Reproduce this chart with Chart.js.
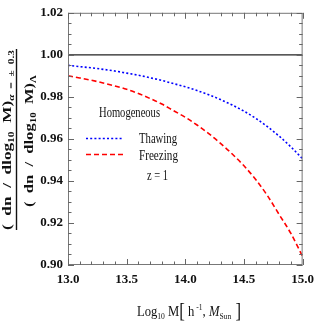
<!DOCTYPE html>
<html><head><meta charset="utf-8">
<script src="https://cdn.jsdelivr.net/npm/chart.js@4/dist/chart.umd.min.js"></script>
<style>html,body{margin:0;padding:0;background:#fff}canvas{display:block}</style>
</head><body>
<canvas id="c" width="321" height="332"></canvas>
<script>
// ---- data ----
const massValues = [13.0,13.1,13.2,13.3,13.4,13.5,13.6,13.7,13.8,13.9,14.0,14.1,14.2,14.3,14.4,14.5,14.6,14.7,14.8,14.9,15.0];
const thawing  = [0.9950,0.9944,0.9938,0.9931,0.9923,0.9913,0.9903,0.9891,0.9878,0.9863,0.9848,0.9830,0.9810,0.9787,0.9761,0.9732,0.9698,0.9658,0.9613,0.9562,0.9505];
const freezing = [0.9900,0.9890,0.9879,0.9866,0.9852,0.9836,0.9816,0.9792,0.9766,0.9734,0.9703,0.9666,0.9625,0.9579,0.9528,0.9472,0.9407,0.9330,0.9240,0.9150,0.9040];
const referenceMass = [13.0,15.0];
const referenceRatio = [1.0,1.0];
const yTickValues = [0.90,0.92,0.94,0.96,0.98,1.00,1.02];
const xTickValues = [13.0,13.5,14.0,14.5,15.0];
const seriesNames = ['Thawing','Freezing'];
const legendTitle = 'Homogeneous';
const legendNote = 'z = 1';

const SERIF = '"Liberation Serif","Times New Roman",serif';

function rich(ctx, parts, x, y, targetW, align){
  let W = 0;
  parts.forEach(p=>{ctx.font=p.font; p.w=ctx.measureText(p.t).width; W+=p.w;});
  const s = targetW ? targetW/W : 1;
  const x0 = align==='center' ? x - W*s/2 : x;
  ctx.save();
  ctx.translate(x0,y);
  ctx.scale(s,1);
  let cx = 0;
  parts.forEach(p=>{
    ctx.font=p.font; ctx.fillStyle='#111'; ctx.textBaseline='alphabetic'; ctx.textAlign='left';
    ctx.fillText(p.t, cx, p.dy||0);
    cx += p.w;
  });
  ctx.restore();
}

const decor = {
  id:'decor',
  afterDraw(chart){
    const {ctx, chartArea:a, scales:{x, y}} = chart;
    ctx.save();
    // frame
    ctx.strokeStyle = '#777'; ctx.lineWidth = 1;
    ctx.strokeRect(a.left+0.5, a.top+0.5, a.right-a.left-1, a.bottom-a.top-1);
    // inward ticks
    ctx.strokeStyle = '#666';
    ctx.beginPath();
    for (let i=0;i<=24;i++){
      const v = y.min + i*0.005;
      const py = Math.round(y.getPixelForValue(v))+0.5;
      const L = (i%4===0) ? 6 : 3.5;
      ctx.moveTo(a.left, py); ctx.lineTo(a.left+L, py);
      ctx.moveTo(a.right, py); ctx.lineTo(a.right-L, py);
    }
    for (let i=0;i<=20;i++){
      const v = x.min + i*0.1;
      const px = Math.round(x.getPixelForValue(v))+0.5;
      const L = (i%5===0) ? 6 : 3.5;
      ctx.moveTo(px, a.bottom); ctx.lineTo(px, a.bottom-L);
      ctx.moveTo(px, a.top); ctx.lineTo(px, a.top+L);
    }
    ctx.stroke();

    // legend
    rich(ctx,[{t:legendTitle,font:'14px '+SERIF}],99,117,61,'left');
    ctx.lineWidth = 1.6;
    ctx.strokeStyle = 'rgb(0,0,255)'; ctx.setLineDash([2,2.2]);
    ctx.beginPath(); ctx.moveTo(86,138.5); ctx.lineTo(123,138.5); ctx.stroke();
    ctx.strokeStyle = 'rgb(255,0,0)'; ctx.setLineDash([5,3]);
    ctx.beginPath(); ctx.moveTo(86,154.5); ctx.lineTo(123,154.5); ctx.stroke();
    ctx.setLineDash([]);
    rich(ctx,[{t:seriesNames[0],font:'14px '+SERIF}],139,143,38,'left');
    rich(ctx,[{t:seriesNames[1],font:'14px '+SERIF}],139,160,39,'left');
    rich(ctx,[{t:legendNote,font:'14px '+SERIF}],147,180,21,'left');

    // x title
    const B = '15px '+SERIF, S = '9px '+SERIF;
    rich(ctx,[
      {t:'Log',font:B},{t:'10',font:S,dy:3},{t:' M',font:B},
      {t:'[',font:'20px '+SERIF,dy:1},{t:' h',font:B},{t:' -1',font:S,dy:-6},
      {t:', ',font:B},{t:'M',font:'italic 15px '+SERIF},{t:'Sun',font:S,dy:3},
      {t:' ]',font:'20px '+SERIF,dy:1}
    ],189,316,104,'center');

    // y title (fraction)
    const YB='bold 12px '+SERIF, YS='bold 8px '+SERIF;
    ctx.save();
    ctx.translate(11,140); ctx.rotate(-Math.PI/2);
    rich(ctx,[
      {t:'(  dn  /  dlog',font:YB},{t:'10',font:YS,dy:2.5},{t:'  M)',font:YB},
      {t:'\u03B1',font:'italic bold 8px '+SERIF,dy:2.5},{t:'  =  \u00B1  0.3',font:YS,dy:2.5}
    ],0,0,180,'center');
    ctx.restore();
    ctx.save();
    ctx.translate(33,141); ctx.rotate(-Math.PI/2);
    rich(ctx,[
      {t:'(  dn  /  dlog',font:YB},{t:'10',font:YS,dy:2.5},{t:'  M)',font:YB},
      {t:'\u039B',font:YS,dy:2.5}
    ],0,0,132,'center');
    ctx.restore();
    ctx.strokeStyle='#111'; ctx.lineWidth=1.4;
    ctx.beginPath(); ctx.moveTo(16.5,49); ctx.lineTo(16.5,230); ctx.stroke();
    ctx.restore();
  }
};

const toXY = (xs, ys) => xs.map((m,i)=>({x:m, y:ys[i]}));

new Chart(document.getElementById('c'), {
  type:'line',
  data:{datasets:[
    {label:'reference', data:toXY(referenceMass,referenceRatio), borderColor:'#222', borderWidth:1.4, pointRadius:0, tension:0},
    {label:seriesNames[0], data:toXY(massValues,thawing), borderColor:'rgb(0,0,255)', borderWidth:1.6, borderDash:[2,2.2], pointRadius:0, cubicInterpolationMode:'monotone'},
    {label:seriesNames[1], data:toXY(massValues,freezing), borderColor:'rgb(255,0,0)', borderWidth:1.6, borderDash:[5,3], pointRadius:0, cubicInterpolationMode:'monotone'}
  ]},
  options:{
    responsive:false, animation:false, devicePixelRatio:1,
    layout:{padding:{left:0,right:13,top:12,bottom:0}},
    plugins:{legend:{display:false}, tooltip:{enabled:false}},
    scales:{
      x:{type:'linear', min:13, max:15,
        afterBuildTicks(s){ s.ticks = xTickValues.map(v=>({value:v})); },
        afterFit(s){ s.height = 67; },
        grid:{display:false, drawTicks:false}, border:{display:false},
        ticks:{padding:7, color:'#111', font:{family:SERIF, size:13, weight:'bold'}, callback:v=>Number(v).toFixed(1), maxRotation:0, autoSkip:false}
      },
      y:{type:'linear', min:0.90, max:1.02,
        afterBuildTicks(s){ s.ticks = yTickValues.map(v=>({value:v})); },
        afterFit(s){ s.width = 68; },
        grid:{display:false, drawTicks:false}, border:{display:false},
        ticks:{padding:5, color:'#111', font:{family:SERIF, size:13, weight:'bold'}, callback:v=>Number(v).toFixed(2), autoSkip:false}
      }
    }
  },
  plugins:[decor]
});
</script>
</body></html>
